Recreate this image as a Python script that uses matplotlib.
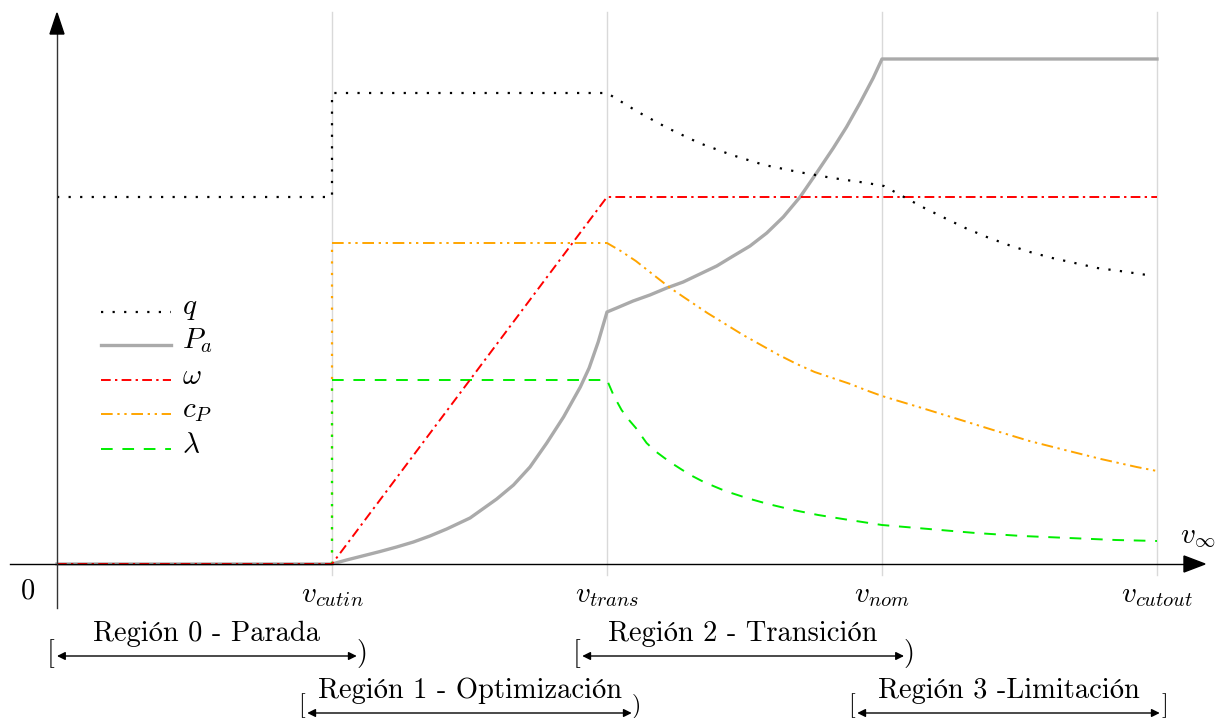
import matplotlib
matplotlib.use("Agg")
import matplotlib.pyplot as plt
from matplotlib.patches import Polygon

plt.rcParams['mathtext.fontset'] = 'cm'
plt.rcParams['axes.formatter.use_mathtext'] = True

# ---------------- data (x in units of the characteristic speeds, y in arbitrary units) ----------
tick_pos = [1, 2, 3, 4]
tick_labels = [r'$v_{cutin}$', r'$v_{trans}$', r'$v_{nom}$', r'$v_{cutout}$']

# q
q_x = [0.0, 1.0, 1.0, 2.0, 2.113, 2.22, 2.335, 2.454, 2.572, 2.696, 2.82, 2.945, 3.007,
       3.08, 3.154, 3.228, 3.303, 3.381, 3.46, 3.538, 3.619, 3.701, 3.783, 3.865, 3.989]
q_y = [367, 367, 471, 471, 452, 436, 421, 409, 399, 392, 386, 381, 378,
       367, 356, 346, 336, 327, 319, 312, 306, 301, 296, 293, 288]

# P_a
p_x = [0.0, 1.0, 1.053, 1.175, 1.235, 1.296, 1.356, 1.417, 1.502, 1.599, 1.66, 1.72,
       1.781, 1.842, 1.903, 1.935, 1.968, 2.0,
       2.035, 2.095, 2.156, 2.217, 2.277, 2.338, 2.399, 2.459, 2.52, 2.581, 2.641,
       2.702, 2.762, 2.823, 2.871, 2.92, 2.968, 3.0, 4.0]
p_y = [0, 0, 4, 12.5, 17, 22, 28, 35, 46, 65, 79, 97,
       121, 147, 177, 196, 222, 252,
       256, 263, 269, 276, 282, 290, 298, 308, 318, 331, 347,
       367, 391, 416, 437, 461, 486, 505, 505]

# omega
w_x = [0.0, 1.0, 2.0, 4.0]
w_y = [0, 0, 367, 367]

# c_P
cp_x = [1.0, 2.0, 2.05, 2.105, 2.165, 2.23, 2.3, 2.365, 2.43, 2.495, 2.56, 2.625, 2.69,
        2.755, 2.82, 2.885, 2.94, 3.0, 3.145, 3.275,
        3.404, 3.536, 3.665, 3.796, 3.926, 4.0]
cp_y = [321, 321, 313, 303, 290, 276, 263, 251, 240, 229, 219, 209, 200,
        192, 186, 180, 174, 168, 156, 145,
        134, 123, 114, 105, 97, 93]

# lambda
l_x = [1.0, 2.0, 2.025, 2.053, 2.08, 2.105, 2.144, 2.175, 2.209, 2.24, 2.274, 2.31,
       2.352, 2.43, 2.508, 2.586, 2.677,
       2.768, 2.858, 3.0, 3.17, 3.34, 3.51, 3.68, 3.85, 4.0]
l_y = [184, 184, 168, 154, 144, 136, 121, 113, 106, 100, 94, 88,
       82, 73, 66, 60, 54,
       49, 45, 39, 35, 31, 28, 26, 24, 23]

# vertical jumps at v_cutin
cp_jump = [0, 321]
l_jump = [0, 184]

regions = ['Región 0 - Parada', 'Región 1 - Optimización',
           'Región 2 - Transición', 'Región 3 -Limitación']
region_start = [0.0, 0.91, 1.91, 2.91]
region_end = [1.09, 2.09, 3.08, 4.01]
region_close = [')', ')', ')', ']']

# ---------------- figure ----------------
W, H = 1216, 718
fig = plt.figure(figsize=(W / 100, H / 100), dpi=100)
ax = fig.add_axes([0, 0, 1, 1])
X0, SX = 57, 275.0
ax.set_xlim(-X0 / SX, (W - X0) / SX)
ax.set_ylim(-(H - 564), 564)
ax.axis('off')

FS = 20.5
FSM = 21
serif = ['cmr10', 'STIXGeneral', 'DejaVu Serif']

# grid lines
for t in tick_pos:
    ax.plot([t, t], [-11, 552], color='#d9d9d9', lw=1.0, zorder=1)

# axes with arrows
ax.plot([-47 / SX, (1186 - X0) / SX], [0, 0], color='black', lw=1.0, zorder=6)
ax.add_patch(Polygon([[(1205 - X0) / SX, 0], [(1184 - X0) / SX, 8], [(1184 - X0) / SX, -8]],
                     closed=True, color='black', zorder=6))
ax.plot([0, 0], [-44, 532], color='#333333', lw=1.0, zorder=6)
ax.add_patch(Polygon([[0, 551], [-7 / SX, 530], [7 / SX, 530]],
                     closed=True, color='black', zorder=6))

# series
style_q = dict(color='black', lw=1.6, ls=(0, (1, 4.2)), zorder=5)
style_p = dict(color='#aaaaaa', lw=2.4, ls='-', zorder=2)
style_w = dict(color='#ff0000', lw=1.4, ls=(0, (5, 2.2, 1.2, 2.2)), zorder=4)
style_cp = dict(color='#ffa500', lw=1.4, ls=(0, (6, 2.4, 1.2, 2.4, 1.2, 2.4)), zorder=3)
style_l = dict(color='#00ee00', lw=1.4, ls=(0, (6, 5)), zorder=3)
dot_cp = dict(color='#ffa500', lw=1.6, ls=(0, (1, 4.2)), zorder=3)
dot_l = dict(color='#00ee00', lw=1.6, ls=(0, (1, 4.2)), zorder=3.5)

ax.plot(p_x, p_y, **style_p)
ax.plot(q_x, q_y, **style_q)
ax.plot(cp_x, cp_y, **style_cp)
ax.plot([1.0, 1.0], cp_jump, **dot_cp)
ax.plot(l_x, l_y, **style_l)
ax.plot([1.0, 1.0], l_jump, **dot_l)
ax.plot(w_x, w_y, **style_w)

# legend (manual)
leg_labels = [r'$q$', r'$P_a$', r'$\omega$', r'$c_P$', r'$\lambda$']
leg_styles = [style_q, style_p, style_w, style_cp, style_l]
leg_rows = [564 - 312, 564 - 345, 564 - 380, 564 - 414, 564 - 449]
for lab, st, yy in zip(leg_labels, leg_styles, leg_rows):
    ax.plot([(101 - X0) / SX, (171 - X0) / SX], [yy, yy], **st)
    ax.text((182 - X0) / SX, yy + 4, lab, fontsize=FSM, ha='left', va='center')

# tick labels
for t, lab in zip(tick_pos, tick_labels):
    ax.text(t, 564 - 595, lab, fontsize=FSM, ha='center', va='center')
ax.text((28 - X0) / SX, 564 - 591, '0', fontsize=FS, ha='center', va='center', family=serif)
ax.text((1180 - X0) / SX, 564 - 536, r'$v_\infty$', fontsize=FSM, ha='left', va='center')

# regions
row_y = [564 - 656, 564 - 713, 564 - 656, 564 - 713]
for i, (name, a, b, c) in enumerate(zip(regions, region_start, region_end, region_close)):
    yy = row_y[i]
    ax.annotate('', xy=(b, yy), xytext=(a, yy),
                arrowprops=dict(arrowstyle='<|-|>', color='black', lw=1.0,
                                mutation_scale=12, shrinkA=0, shrinkB=0), zorder=6)
    by = yy + 2 if i in (0, 2) else yy + 7
    bfs = FS if i in (0, 2) else FS * 0.85
    ax.text(a - 6 / SX, by, '[', fontsize=bfs, ha='center', va='center', family=serif)
    ax.text(b + 5 / SX, by, c, fontsize=bfs, ha='center', va='center', family=serif)
    ax.text((a + b) / 2, yy + 22, name, fontsize=FS, ha='center', va='center', family=serif)

fig.savefig('out.png', dpi=100)
